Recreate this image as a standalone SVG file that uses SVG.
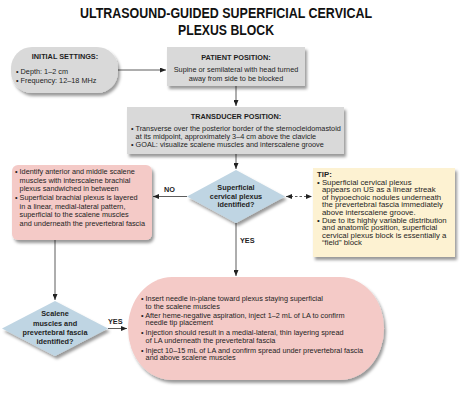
<svg xmlns="http://www.w3.org/2000/svg" width="474" height="400" viewBox="0 0 474 400">
<style>
text{font-family:"Liberation Sans",Arial,sans-serif;fill:#1e1e1e;font-size:7.3px}
.b{font-weight:bold}
.c{text-anchor:middle}
.t{font-size:14px;font-weight:bold;fill:#111}
.tp text{font-size:7.8px}
.gray{fill:#d9d9d9}
.pink{fill:#f4cac7}
.blue{fill:#bfd5e3}
.tip{fill:#fdf2d2}
.ln{stroke:#333;stroke-width:0.8;fill:none}
.dash{stroke-dasharray:2.5,2}
</style>
<defs>
<filter id="sh" x="-10%" y="-10%" width="130%" height="140%">
<feDropShadow dx="2" dy="3" stdDeviation="1.8" flood-color="#000" flood-opacity="0.4"/>
</filter>
<marker id="ah" markerWidth="6" markerHeight="5" refX="6" refY="2.5" orient="auto-start-reverse" markerUnits="userSpaceOnUse">
<path d="M0,0 L6,2.5 L0,5 z" fill="#222"/>
</marker>
</defs>
<g id="title">
<text class="t c" x="226" y="18" textLength="292" lengthAdjust="spacingAndGlyphs">ULTRASOUND-GUIDED SUPERFICIAL CERVICAL</text>
<text class="t c" x="226" y="35" textLength="96" lengthAdjust="spacingAndGlyphs">PLEXUS BLOCK</text>
</g>
<g id="connectors">
<line class="ln" x1="118" y1="70" x2="166" y2="70" marker-end="url(#ah)"/>
<line class="ln" x1="236" y1="86" x2="236" y2="106" marker-end="url(#ah)"/>
<line class="ln" x1="236" y1="154" x2="236" y2="169" marker-end="url(#ah)"/>
<line class="ln" x1="187" y1="196.5" x2="153" y2="196.5" marker-end="url(#ah)"/>
<line class="ln dash" x1="286" y1="196.5" x2="312" y2="196.5" marker-start="url(#ah)" marker-end="url(#ah)"/>
<line class="ln" x1="236" y1="223" x2="236" y2="276" marker-end="url(#ah)"/>
<line class="ln" x1="55" y1="240" x2="55" y2="300" marker-end="url(#ah)"/>
<line class="ln" x1="108" y1="328.5" x2="127" y2="328.5" marker-end="url(#ah)"/>
<text class="b" x="164" y="192">NO</text>
<text class="b" x="240" y="243">YES</text>
<text class="b" x="108" y="324">YES</text>
</g>
<g id="initial">
<rect class="gray" x="11" y="47" width="107" height="46" rx="21" filter="url(#sh)"/>
<text class="b c" x="65" y="58.5">INITIAL SETTINGS:</text>
<text x="16" y="74">• Depth: 1–2 cm</text>
<text x="16" y="82.5">• Frequency: 12–18 MHz</text>
</g>
<g id="patient">
<rect class="gray" x="167" y="47" width="138" height="39" filter="url(#sh)"/>
<text class="b c" x="236" y="60">PATIENT POSITION:</text>
<text class="c" x="236" y="72">Supine or semilateral with head turned</text>
<text class="c" x="236" y="81">away from side to be blocked</text>
</g>
<g id="transducer">
<rect class="gray" x="127" y="107" width="217" height="47" filter="url(#sh)"/>
<text class="b c" x="236" y="118.5">TRANSDUCER POSITION:</text>
<text x="131" y="130.5">• Transverse over the posterior border of the sternocleidomastoid</text>
<text x="135.6" y="138.5">at its midpoint, approximately 3–4 cm above the clavicle</text>
<text x="131" y="146.5">• GOAL: visualize scalene muscles and interscalene groove</text>
</g>
<g id="decision1">
<polygon class="blue" points="236,170 285,196.5 236,223 187,196.5" filter="url(#sh)"/>
<text class="b c" x="236" y="189.5">Superficial</text>
<text class="b c" x="236" y="198.5">cervical plexus</text>
<text class="b c" x="236" y="207">identified?</text>
</g>
<g id="brachial">
<rect class="pink" x="12" y="165" width="140" height="75" rx="6" filter="url(#sh)"/>
<text x="15" y="174">• Identify anterior and middle scalene</text>
<text x="19.6" y="182.5">muscles with interscalene brachial</text>
<text x="19.6" y="191">plexus sandwiched in between</text>
<text x="15" y="200">• Superficial brachial plexus is layered</text>
<text x="19.6" y="208.5">in a linear, medial-lateral pattern,</text>
<text x="19.6" y="217">superficial to the scalene muscles</text>
<text x="19.6" y="225.5">and underneath the prevertebral fascia</text>
</g>
<g id="tip" class="tp">
<rect class="tip" x="313" y="168" width="142" height="89" filter="url(#sh)"/>
<text class="b" x="317" y="176.5">TIP:</text>
<text x="317" y="184.5">• Superficial cervical plexus</text>
<text x="322" y="192">appears on US as a linear streak</text>
<text x="322" y="199.5">of hypoechoic nodules underneath</text>
<text x="322" y="207">the prevertebral fascia immediately</text>
<text x="322" y="214.5">above interscalene groove.</text>
<text x="317" y="222.5">• Due to its highly variable distribution</text>
<text x="322" y="230">and anatomic position, superficial</text>
<text x="322" y="237.5">cervical plexus block is essentially a</text>
<text x="322" y="245">“field” block</text>
</g>
<g id="decision2">
<polygon class="blue" points="55,301 108,328.5 55,356 2,328.5" filter="url(#sh)"/>
<text class="b c" x="55" y="316">Scalene</text>
<text class="b c" x="55" y="325.5">muscles and</text>
<text class="b c" x="55" y="334.5">prevertebral fascia</text>
<text class="b c" x="55" y="343.5">identified?</text>
</g>
<g id="injection">
<rect class="pink" x="128" y="277" width="256" height="103" rx="44" ry="51.5" filter="url(#sh)"/>
<text x="141" y="301">• Insert needle in-plane toward plexus staying superficial</text>
<text x="145.6" y="308.5">to the scalene muscles</text>
<text x="141" y="317.5">• After heme-negative aspiration, inject 1–2 mL of LA to confirm</text>
<text x="145.6" y="325">needle tip placement</text>
<text x="141" y="335">• Injection should result in a medial-lateral, thin layering spread</text>
<text x="145.6" y="342.5">of LA underneath the prevertebral fascia</text>
<text x="141" y="352.5">• Inject 10–15 mL of LA and confirm spread under prevertebral fascia</text>
<text x="145.6" y="360">and above scalene muscles</text>
</g>
</svg>
